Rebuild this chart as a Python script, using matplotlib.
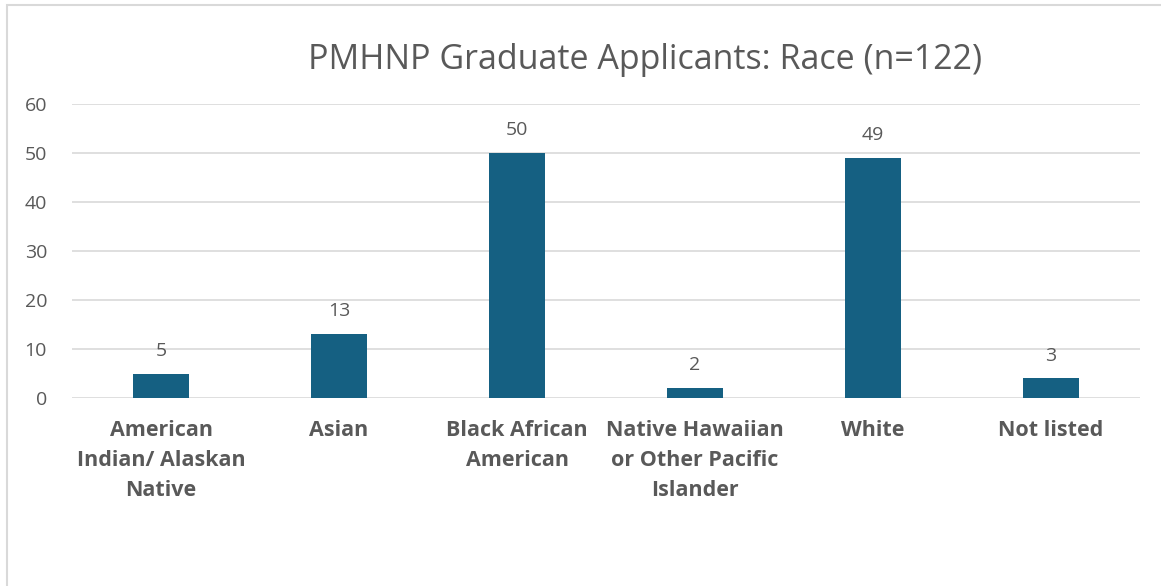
import matplotlib.pyplot as plt
from matplotlib.patches import Rectangle

plt.rcParams['font.family'] = ['Open Sans', 'DejaVu Sans']

categories = ['American\nIndian/ Alaskan\nNative', 'Asian', 'Black African\nAmerican',
              'Native Hawaiian\nor Other Pacific\nIslander', 'White', 'Not listed']
values = [5, 13, 50, 2, 49, 4]
value_labels = ['5', '13', '50', '2', '49', '3']
yticks = [0, 10, 20, 30, 40, 50, 60]

bar_color = '#156082'
text_color = '#595959'
grid_color = '#d9d9d9'

W, H = 1161, 586
fig = plt.figure(figsize=(W / 100, H / 100), dpi=100)
# plot area in pixel coordinates
left, right, top, bottom = 72, 1140, 104, 398
ax = fig.add_axes([left / W, 1 - bottom / H, (right - left) / W, (bottom - top) / H])

x = range(len(values))
ax.bar(x, values, width=0.315, color=bar_color, zorder=3)
for i, (v, lab) in enumerate(zip(values, value_labels)):
    ax.annotate(lab, (i, v), xytext=(0, 10), textcoords='offset points',
                ha='center', va='bottom', fontsize=14, color=text_color)

ax.set_xlim(-0.5, len(values) - 0.5)
ax.set_ylim(0, 60)
ax.set_yticks(yticks)
ax.yaxis.grid(True, color=grid_color, linewidth=1.2, zorder=0)
ax.set_xticks(list(x))
ax.set_xticklabels(categories, fontsize=15.5, fontweight='bold', color=text_color,
                   linespacing=1.55, va='top')
ax.tick_params(axis='y', labelsize=14, labelcolor=text_color, length=0, pad=18)
ax.tick_params(axis='x', length=0, pad=16)
for s in ax.spines.values():
    s.set_visible(False)

fig.text(645 / W, 1 - 60 / H, 'PMHNP Graduate Applicants: Race (n=122)',
         ha='center', va='center', fontsize=24.5, color=text_color)

# outer chart frame (only left and top edges visible)
fig.patches.append(Rectangle((7 / W, -0.1), 1.2, 1 - 5 / H + 0.1, transform=fig.transFigure,
                             fill=False, edgecolor='#d9d9d9', linewidth=1.5))

fig.savefig('out.png', dpi=100, facecolor='white')
